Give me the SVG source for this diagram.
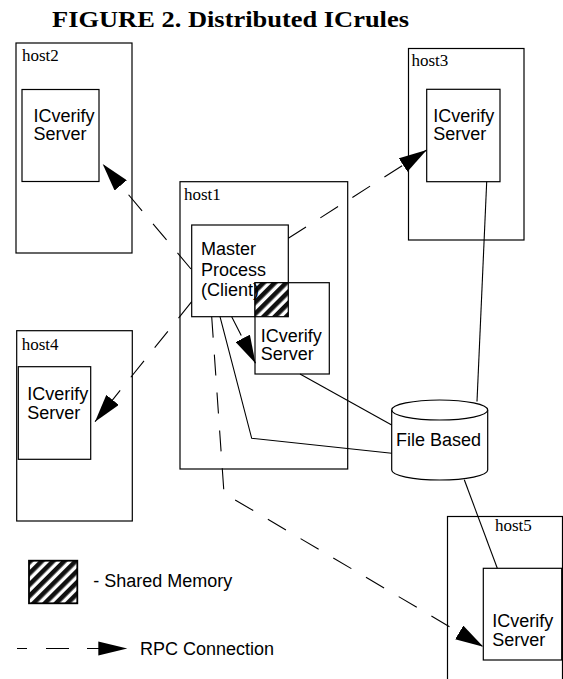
<svg xmlns="http://www.w3.org/2000/svg" width="563" height="679" viewBox="0 0 563 679">
<defs>
<style>
.box{fill:#fff;stroke:#000;stroke-width:1.2}
.host{font-family:"Liberation Serif","Times New Roman",serif;font-size:17px;fill:#000}
.lbl{font-family:"Liberation Sans",Arial,sans-serif;font-size:18px;fill:#000}
.title{font-family:"Liberation Serif","Times New Roman",serif;font-size:23.5px;font-weight:bold;fill:#000}
.solid{fill:none;stroke:#000;stroke-width:1.1}
.rpc{fill:none;stroke:#000;stroke-width:1.1;stroke-dasharray:21 17;marker-end:url(#arrow)}
</style>
<marker id="arrow" viewBox="0 0 28 16" refX="28" refY="8" markerWidth="28" markerHeight="16" markerUnits="userSpaceOnUse" orient="auto">
<path d="M0,0 L28,8 L0,16 Z" fill="#000"/>
</marker>
<pattern id="hatch" patternUnits="userSpaceOnUse" width="8" height="8" patternTransform="rotate(45)">
<rect x="0" y="0" width="8" height="8" fill="#fff"/>
<rect x="0" y="0" width="4.6" height="8" fill="#111"/>
</pattern>
</defs>
<rect width="563" height="679" fill="#fff"/>
<text class="title" x="52" y="27" textLength="357" lengthAdjust="spacingAndGlyphs">FIGURE 2. Distributed ICrules</text>

<g id="host2">
<rect class="box" x="16" y="43" width="116" height="210"/>
<text class="host" x="22" y="60.5">host2</text>
<rect class="box" x="22" y="89.5" width="77" height="92"/>
<text class="lbl" x="33.5" y="121.5">ICverify</text>
<text class="lbl" x="33.5" y="140">Server</text>
</g>

<g id="host3">
<rect class="box" x="408.5" y="48.5" width="115.5" height="191.5"/>
<text class="host" x="411.5" y="65.7">host3</text>
<rect class="box" x="426.7" y="89.3" width="73.3" height="92.4"/>
<text class="lbl" x="433.3" y="121.7">ICverify</text>
<text class="lbl" x="433.3" y="140">Server</text>
</g>

<g id="host4">
<rect class="box" x="16.7" y="330.7" width="115.6" height="190.3"/>
<text class="host" x="21.7" y="350">host4</text>
<rect class="box" x="18.3" y="366.7" width="72.4" height="92.6"/>
<text class="lbl" x="27.3" y="400">ICverify</text>
<text class="lbl" x="27.3" y="418.7">Server</text>
</g>

<g id="host5">
<rect class="box" x="447.5" y="516.5" width="115" height="200"/>
<text class="host" x="495" y="530.7">host5</text>
<rect class="box" x="483.3" y="568.3" width="78.4" height="91.7"/>
<text class="lbl" x="492.3" y="626.7">ICverify</text>
<text class="lbl" x="492.3" y="646">Server</text>
</g>

<g id="host1">
<rect class="box" x="180" y="181.7" width="167.7" height="287.3"/>
<text class="host" x="184" y="200">host1</text>
</g>

<g id="master">
<rect class="box" x="191.7" y="225" width="96.6" height="91.7"/>
</g>

<g id="host1-server">
<rect class="box" x="255" y="282.7" width="74.3" height="91.3"/>
<text class="lbl" x="260.7" y="341.7">ICverify</text>
<text class="lbl" x="260.7" y="360">Server</text>
</g>

<g id="shared-memory">
<rect x="255" y="282.7" width="33.3" height="34" fill="url(#hatch)" stroke="#000" stroke-width="1.2"/>
</g>

<g id="master-text">
<text class="lbl" x="201" y="255">Master</text>
<text class="lbl" x="201" y="275.5">Process</text>
<text class="lbl" x="201" y="295.5">(Client)</text>
</g>

<g id="file-based">
<path d="M391.7,410 A48,10 0 0 1 487.7,410 L487.7,470 A48,10 0 0 1 391.7,470 Z" fill="#fff" stroke="#000" stroke-width="1.2"/>
<path d="M391.7,410 A48,10 0 0 0 487.7,410" fill="none" stroke="#000" stroke-width="1.2"/>
<text class="lbl" x="396" y="446">File Based</text>
</g>

<g id="connectors">
<path class="solid" d="M486.7,181.7 L477,401.5"/>
<path class="solid" d="M300,374 L391.7,425"/>
<path class="solid" d="M220,316.7 L251.7,438.3 L391.7,453.3"/>
<path class="solid" d="M464.3,479.8 L497.3,568.3"/>
<path class="rpc" d="M191,269 L102.7,164"/>
<path class="rpc" d="M191.7,301.7 L95,421.7"/>
<path class="rpc" d="M288.3,238.3 L426.7,150"/>
<path class="rpc" d="M231.7,316.7 L255.5,363.3"/>
<path class="rpc" d="M211.7,316.7 L224,493.3 L483.3,646.7"/>
</g>

<g id="legend">
<rect x="29" y="560.7" width="48.3" height="42.6" fill="url(#hatch)" stroke="#000" stroke-width="1.8"/>
<text class="lbl" x="93.3" y="586.7">- Shared Memory</text>
<path d="M17,648.5 H27 M46,648.5 H69 M87,648.5 H100" fill="none" stroke="#000" stroke-width="1.1"/>
<path d="M98.3,641.5 L127.3,648.5 L98.3,655.5 Z" fill="#000"/>
<text class="lbl" x="140" y="655">RPC Connection</text>
</g>
</svg>
